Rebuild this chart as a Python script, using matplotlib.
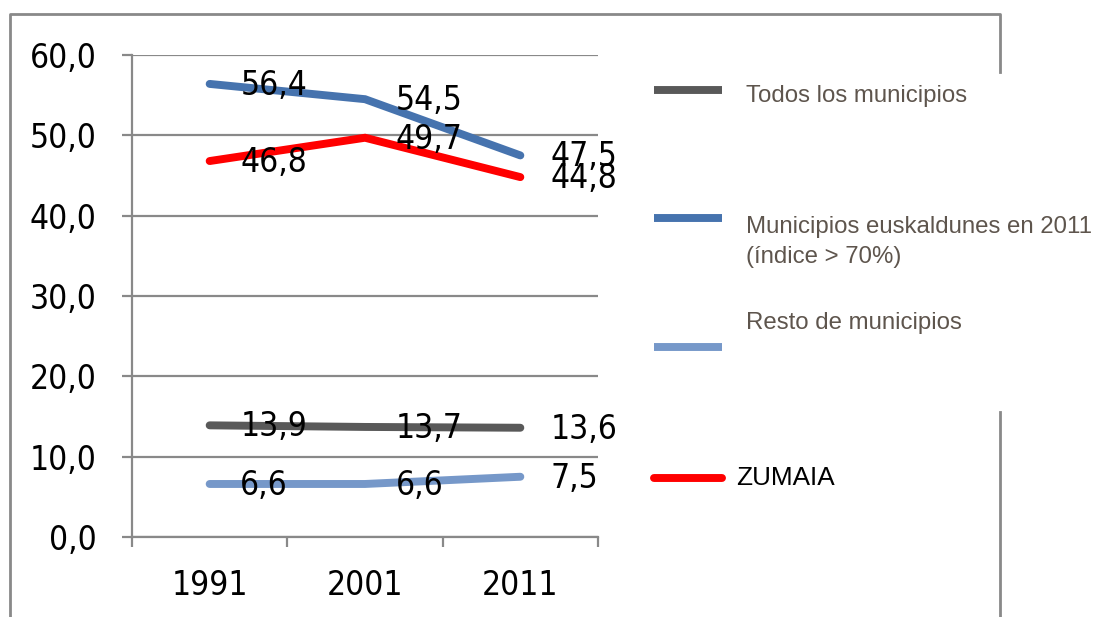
import matplotlib
matplotlib.use("Agg")
import matplotlib.pyplot as plt
from matplotlib.lines import Line2D
from matplotlib import font_manager

years = ["1991", "2001", "2011"]
series_names = ["Todos los municipios",
                "Municipios euskaldunes en 2011\n(índice > 70%)",
                "Resto de municipios",
                "ZUMAIA"]
todos = [13.9, 13.7, 13.6]
euskaldunes = [56.4, 54.5, 47.5]
resto = [6.6, 6.6, 7.5]
zumaia = [46.8, 49.7, 44.8]
yticks = [0, 10, 20, 30, 40, 50, 60]
ytick_labels = ["0,0", "10,0", "20,0", "30,0", "40,0", "50,0", "60,0"]

colors = ["#595959", "#4673AE", "#7698C9", "#FF0000"]
grid_col = "#898989"

names = {f.name for f in font_manager.fontManager.ttflist}
if "Liberation Sans Narrow" in names:
    num_font = dict(family="Liberation Sans Narrow")
    num_size = 26
else:
    num_font = dict(family="DejaVu Sans", stretch="condensed")
    num_size = 24

W, H = 1094, 617
fig = plt.figure(figsize=(W / 100, H / 100), dpi=100)
ax = fig.add_axes([132 / W, 1 - 537 / H, (598 - 132) / W, (537 - 55) / H])

x = list(range(len(years)))
all_series = [todos, euskaldunes, resto, zumaia]
for vals, c in zip(all_series, colors):
    ax.plot(x, vals, color=c, lw=5.7, solid_capstyle="round", solid_joinstyle="miter", zorder=3)

for vals in all_series:
    for xi, v in zip(x, vals):
        ax.annotate(f"{v:.1f}".replace(".", ","), (xi, v), xytext=(22, -1),
                    textcoords="offset points", ha="left", va="center",
                    fontsize=num_size, color="black", zorder=5, **num_font)

ax.set_xlim(-0.5, 2.5)
ax.set_ylim(0, 60)
ax.set_yticks(yticks)
ax.set_yticklabels(ytick_labels)
ax.yaxis.grid(True, color=grid_col, lw=1.6)
ax.set_axisbelow(True)
ax.set_xticks(x)
ax.set_xticklabels(years)
ax.set_xticks([-0.5, 0.5, 1.5, 2.5], minor=True)
ax.tick_params(axis="x", which="major", length=0, pad=23, labelsize=num_size)
ax.tick_params(axis="x", which="minor", length=7.5, width=1.6, color=grid_col, direction="out")
ax.tick_params(axis="y", length=7.5, width=1.6, color=grid_col, pad=18, labelsize=num_size)
for lab in ax.get_xticklabels() + ax.get_yticklabels():
    lab.set_family(num_font["family"])
    if "stretch" in num_font:
        lab.set_stretch(num_font["stretch"])
for s in ["top", "right"]:
    ax.spines[s].set_visible(False)
for s in ["left", "bottom"]:
    ax.spines[s].set_color(grid_col)
    ax.spines[s].set_linewidth(1.6)
ax.patch.set_alpha(0)

# outer chart frame
def fline(xs, ys, **kw):
    fig.add_artist(Line2D([v / W for v in xs], [1 - v / H for v in ys],
                          transform=fig.transFigure, **kw))

fline([10, 10, 1000, 1000], [617, 14, 14, 72], color=grid_col, lw=2)
fline([1000, 1000], [412, 617], color=grid_col, lw=2)

# legend
leg_line_y = [90, 218, 347, 478]
leg_text_y = [96, 242, 323, 478]
leg_text_x = [746, 746, 746, 736]
leg_sizes = [17.3, 17.3, 17.3, 18.8]
leg_colors = ["#5E554D", "#5E554D", "#5E554D", "black"]
for i, name in enumerate(series_names):
    fline([654, 722], [leg_line_y[i]] * 2, color=colors[i], lw=5.7,
          solid_capstyle="round" if i == 3 else "butt")
    fig.text(leg_text_x[i] / W, 1 - leg_text_y[i] / H, name, ha="left", va="center",
             fontsize=leg_sizes[i], color=leg_colors[i], family="Liberation Sans",
             linespacing=1.45)

fig.savefig("out.png", dpi=100, facecolor="white")
